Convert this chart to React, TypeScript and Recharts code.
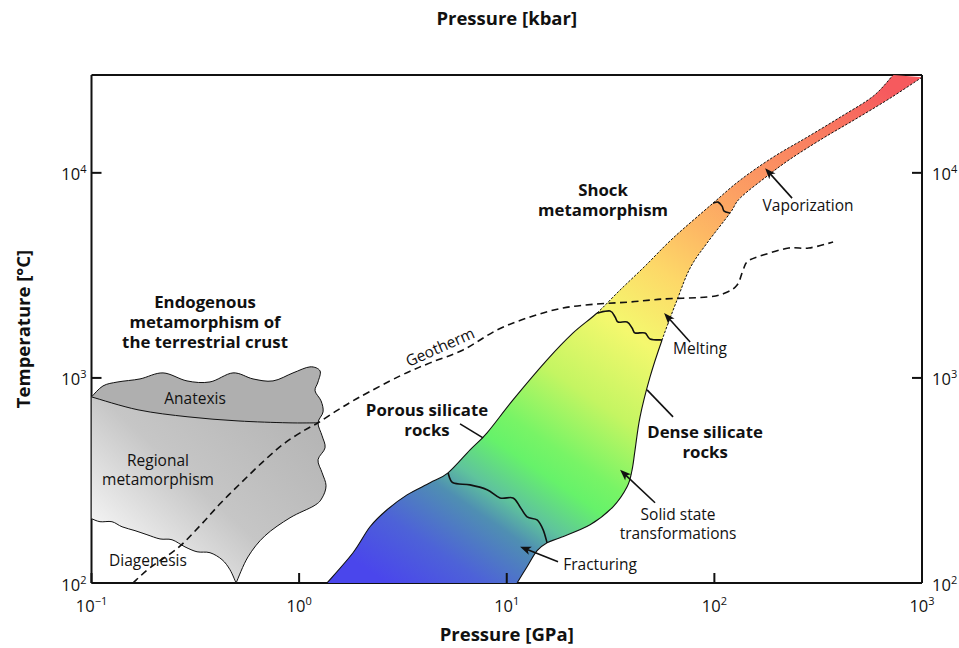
import React from "react";
import { ComposedChart, XAxis, YAxis, Scatter } from "recharts";

// Shock / endogenous metamorphism P–T diagram (log–log)
// Pressure in GPa, temperature in °C.

type Pt = { x: number; y: number };
type Note = { x: number; y: number; lines: string[]; bold?: boolean; angle?: number };
type Arrow = { from: Pt; to: Pt; head: boolean };

const X_DOMAIN = [0.1, 1000];
const Y_DOMAIN = [100, 30000];
const X_TICKS = [0.1, 1, 10, 100, 1000];
const Y_TICKS = [100, 1000, 10000];

// shock band, left edge (porous silicate rocks) bottom → top
const SHOCK_LEFT: Pt[] = [
  { x: 1.362, y: 100 }, { x: 1.818, y: 140.5 }, { x: 2.195, y: 188 }, { x: 2.651, y: 227.5 },
  { x: 3.309, y: 269 }, { x: 4.271, y: 308 }, { x: 5.214, y: 344.6 }, { x: 6.657, y: 446 },
  { x: 8.04, y: 540 }, { x: 10.72, y: 781 }, { x: 15.64, y: 1224 }, { x: 20.87, y: 1657 },
  { x: 27.23, y: 2073 }, { x: 35.14, y: 2683 }, { x: 46.37, y: 3512 }, { x: 63.25, y: 4808 },
  { x: 98.56, y: 7118 }, { x: 133, y: 9213 }, { x: 191.8, y: 11925 }, { x: 279.6, y: 14925 },
  { x: 403.3, y: 18675 }, { x: 581.6, y: 23640 }, { x: 725.8, y: 30000 },
];

// shock band, right edge (dense silicate rocks) top → bottom
const SHOCK_RIGHT: Pt[] = [
  { x: 1000, y: 29240 }, { x: 702, y: 23120 }, { x: 486.8, y: 18470 }, { x: 333.9, y: 14760 },
  { x: 231.6, y: 11660 }, { x: 179.4, y: 9636 }, { x: 133, y: 7529 }, { x: 119, y: 6364 },
  { x: 92.2, y: 4546 }, { x: 76.4, y: 3434 }, { x: 66.1, y: 2398 }, { x: 55.98, y: 1531 },
  { x: 49, y: 1011 }, { x: 43.86, y: 646 }, { x: 41.5, y: 446 }, { x: 40.15, y: 356.4 },
  { x: 37.98, y: 294.5 }, { x: 32.5, y: 235.3 }, { x: 25.2, y: 192.3 }, { x: 18.06, y: 166.3 },
  { x: 15.64, y: 157.1 }, { x: 14, y: 143.7 }, { x: 12.53, y: 120.1 }, { x: 11.21, y: 100 },
];

const FRACTURING: Pt[] = [
  { x: 5.214, y: 344.6 }, { x: 5.511, y: 308 }, { x: 6.657, y: 301 }, { x: 8.04, y: 285 },
  { x: 9.284, y: 260 }, { x: 10.72, y: 260 }, { x: 11.59, y: 235 }, { x: 12.53, y: 210 },
  { x: 14, y: 203 }, { x: 14.96, y: 182 }, { x: 15.64, y: 157.1 },
];

const MELTING: Pt[] = [
  { x: 27.23, y: 2073 }, { x: 31.45, y: 2120 }, { x: 33.24, y: 1982 }, { x: 34.36, y: 1874 },
  { x: 37.98, y: 1874 }, { x: 40.15, y: 1752 }, { x: 41.5, y: 1657 }, { x: 46.32, y: 1657 },
  { x: 49, y: 1549 }, { x: 55.98, y: 1531 },
];

const VAPORIZATION: Pt[] = [
  { x: 98.56, y: 7118 }, { x: 104.2, y: 7199 }, { x: 108.9, y: 6884 }, { x: 111.4, y: 6510 },
  { x: 119, y: 6364 },
];

const GEOTHERM: Pt[] = [
  { x: 0.1585, y: 100 }, { x: 0.1913, y: 118.7 }, { x: 0.2611, y: 148.5 }, { x: 0.3331, y: 190.2 },
  { x: 0.4205, y: 246.1 }, { x: 0.5369, y: 314.9 }, { x: 0.6851, y: 398.6 }, { x: 0.8553, y: 482.5 },
  { x: 1.068, y: 558 }, { x: 1.233, y: 603.7 }, { x: 1.539, y: 698.5 }, { x: 1.965, y: 808.3 },
  { x: 3.062, y: 1023 }, { x: 4.271, y: 1184 }, { x: 6.159, y: 1369 }, { x: 8.98, y: 1713 },
  { x: 12.95, y: 1982 }, { x: 18.67, y: 2193 }, { x: 27.23, y: 2293 }, { x: 39.26, y: 2345 },
  { x: 56.6, y: 2425 }, { x: 92.2, y: 2480 }, { x: 112.6, y: 2594 }, { x: 128.7, y: 2838 },
  { x: 137.5, y: 3358 }, { x: 145.3, y: 3715 }, { x: 171.6, y: 3973 }, { x: 228.2, y: 4298 },
  { x: 284.9, y: 4298 }, { x: 373.1, y: 4597 },
];

// crust field: top + right wavy outline, from the left axis down to the bottom apex
const CRUST_EDGE: Pt[] = [
  { x: 0.1, y: 808 }, { x: 0.1136, y: 914 }, { x: 0.1341, y: 956 }, { x: 0.1713, y: 989 },
  { x: 0.2211, y: 1058 }, { x: 0.2884, y: 967 }, { x: 0.3722, y: 956 }, { x: 0.4804, y: 1058 },
  { x: 0.5996, y: 989 }, { x: 0.7485, y: 967 }, { x: 0.9346, y: 1058 }, { x: 1.128, y: 1132 },
  { x: 1.261, y: 1082 }, { x: 1.233, y: 956 }, { x: 1.193, y: 865 }, { x: 1.275, y: 773 },
  { x: 1.304, y: 683 }, { x: 1.233, y: 604 }, { x: 1.29, y: 522 }, { x: 1.333, y: 456 },
  { x: 1.233, y: 399 }, { x: 1.29, y: 345 }, { x: 1.348, y: 298 }, { x: 1.29, y: 260 },
  { x: 1.18, y: 238 }, { x: 0.904, y: 208 }, { x: 0.685, y: 170 }, { x: 0.567, y: 134 },
  { x: 0.497, y: 100 },
];

// diagenesis boundary, apex → left axis
const DIAGENESIS: Pt[] = [
  { x: 0.4646, y: 116 }, { x: 0.4252, y: 130 }, { x: 0.3722, y: 140.5 }, { x: 0.3224, y: 142 },
  { x: 0.2821, y: 150 }, { x: 0.2443, y: 162.5 }, { x: 0.2138, y: 164 }, { x: 0.185, y: 172 },
  { x: 0.162, y: 180 }, { x: 0.1403, y: 188 }, { x: 0.1255, y: 199 }, { x: 0.1099, y: 199 },
  { x: 0.1, y: 206 },
];

// anatexis / regional metamorphism divide, left → right
const ANATEXIS_DIV: Pt[] = [
  { x: 0.1, y: 808 }, { x: 0.1675, y: 699 }, { x: 0.2915, y: 646 }, { x: 0.5078, y: 617 },
  { x: 0.8843, y: 604 }, { x: 1.233, y: 604 },
];

const NOTES: Note[] = [
  { x: 29.1, y: 8235, lines: ["Shock", "metamorphism"], bold: true },
  { x: 0.3522, y: 2345, lines: ["Endogenous", "metamorphism of", "the terrestrial crust"], bold: true },
  { x: 4.131, y: 698.5, lines: ["Porous silicate", "rocks"], bold: true },
  { x: 90.2, y: 545.8, lines: ["Dense silicate", "rocks"], bold: true },
  { x: 0.3152, y: 790, lines: ["Anatexis"] },
  { x: 0.209, y: 394, lines: ["Regional", "metamorphism"] },
  { x: 0.1871, y: 128.4, lines: ["Diagenesis"] },
  { x: 282.7, y: 6960, lines: ["Vaporization"] },
  { x: 85.3, y: 1385, lines: ["Melting"] },
  { x: 66.86, y: 215.1, lines: ["Solid state", "transformations"] },
  { x: 28.14, y: 122.8, lines: ["Fracturing"] },
  { x: 4.772, y: 1416, lines: ["Geotherm"], angle: -24 },
];

const ARROWS: Arrow[] = [
  { from: { x: 236.7, y: 7529 }, to: { x: 175.5, y: 10541 }, head: true },
  { from: { x: 76.4, y: 1497 }, to: { x: 57.25, y: 2073 }, head: true },
  { from: { x: 51.8, y: 246.1 }, to: { x: 35.14, y: 356.4 }, head: true },
  { from: { x: 17.66, y: 127 }, to: { x: 11.59, y: 150.3 }, head: true },
  { from: { x: 63.24, y: 645.7 }, to: { x: 47.4, y: 874.1 }, head: false },
  { from: { x: 5.957, y: 597 }, to: { x: 7.688, y: 510.2 }, head: false },
];

const FONT = "'Open Sans', 'Noto Sans', sans-serif";
const INK = "#111";

// Catmull-Rom → cubic bezier pieces, one per gap between points
function segs(p: Pt[]): string[] {
  const out: string[] = [];
  for (let i = 0; i < p.length - 1; i++) {
    const p0 = p[i - 1] || p[i];
    const p1 = p[i];
    const p2 = p[i + 1];
    const p3 = p[i + 2] || p2;
    const c1x = p1.x + (p2.x - p0.x) / 6;
    const c1y = p1.y + (p2.y - p0.y) / 6;
    const c2x = p2.x - (p3.x - p1.x) / 6;
    const c2y = p2.y - (p3.y - p1.y) / 6;
    out.push(`C${c1x},${c1y} ${c2x},${c2y} ${p2.x},${p2.y}`);
  }
  return out;
}

function smooth(p: Pt[], a = 0, b = p.length - 1): string {
  return `M${p[a].x},${p[a].y} ` + segs(p).slice(a, b).join(" ");
}

const noDot = () => <g />;

const same = (a: Pt, b: Pt) => a.x === b.x && a.y === b.y;
const MELT_L = SHOCK_LEFT.findIndex((p) => same(p, MELTING[0]));
const MELT_R = SHOCK_RIGHT.findIndex((p) => same(p, MELTING[MELTING.length - 1]));
const ANAT_K = CRUST_EDGE.findIndex((p) => same(p, ANATEXIS_DIV[ANATEXIS_DIV.length - 1]));

const SHOCK_DATA = [...SHOCK_LEFT, ...SHOCK_RIGHT];
const CRUST_DATA = [...CRUST_EDGE, ...DIAGENESIS, ...ANATEXIS_DIV];

const shockShape = (props: any) => {
  const pts: Pt[] = props.points;
  const L = pts.slice(0, SHOCK_LEFT.length);
  const R = pts.slice(SHOCK_LEFT.length);
  const d = smooth(L) + ` L${R[0].x},${R[0].y} ` + segs(R).join(" ") + " Z";
  const dash = { fill: "none", stroke: INK, strokeWidth: 1, strokeDasharray: "2.5 1.5" };
  const solid = { fill: "none", stroke: INK, strokeWidth: 1.1 };
  return (
    <g>
      <path d={d} fill="url(#shockFill)" stroke="none" />
      <path d={smooth(L, 0, MELT_L)} {...solid} />
      <path d={smooth(L, MELT_L)} {...dash} />
      <path d={smooth(R, 0, MELT_R)} {...dash} />
      <path d={smooth(R, MELT_R)} {...solid} />
    </g>
  );
};

const crustShape = (props: any) => {
  const pts: Pt[] = props.points;
  const nE = CRUST_EDGE.length;
  const nD = DIAGENESIS.length;
  const E = pts.slice(0, nE);
  const D = [E[nE - 1], ...pts.slice(nE, nE + nD)];
  const V = pts.slice(nE + nD);
  const outer = smooth(E) + " " + segs(D).join(" ") + " Z";
  const anat = smooth(E, 0, ANAT_K) + " " + segs([...V].reverse()).join(" ") + " Z";
  const st = { fill: "none", stroke: INK, strokeWidth: 1 };
  return (
    <g>
      <path d={outer} fill="url(#crustFill)" />
      <path d={anat} fill="#afafaf" />
      <path d={smooth(E)} {...st} />
      <path d={smooth(D)} {...st} />
      <path d={smooth(V)} {...st} />
    </g>
  );
};

const waveShape = (props: any) => (
  <path d={smooth(props.points)} fill="none" stroke={INK} strokeWidth={1.6} />
);

const geothermShape = (props: any) => (
  <path d={smooth(props.points)} fill="none" stroke={INK} strokeWidth={1.6} strokeDasharray="7 4.5" />
);

const arrowShape = (head: boolean) => (props: any) => {
  const [a, b] = props.points as Pt[];
  const dx = b.x - a.x;
  const dy = b.y - a.y;
  const len = Math.hypot(dx, dy) || 1;
  const ux = dx / len;
  const uy = dy / len;
  const hl = 11;
  const hw = 4.2;
  const ex = head ? b.x - ux * hl * 0.7 : b.x;
  const ey = head ? b.y - uy * hl * 0.7 : b.y;
  return (
    <g>
      <line x1={a.x} y1={a.y} x2={ex} y2={ey} stroke={INK} strokeWidth={1.6} />
      {head && (
        <polygon
          points={`${b.x},${b.y} ${b.x - ux * hl - uy * hw},${b.y - uy * hl + ux * hw} ${b.x - ux * hl * 0.75},${b.y - uy * hl * 0.75} ${b.x - ux * hl + uy * hw},${b.y - uy * hl - ux * hw}`}
          fill={INK}
        />
      )}
    </g>
  );
};

const noteShape = (props: any) => {
  const n = props.payload as Note;
  const size = n.bold ? 16.8 : 15.5;
  const lh = n.bold ? 20 : 18.5;
  const base = props.cy + size * 0.36;
  return (
    <text
      x={props.cx}
      y={base}
      textAnchor="middle"
      fontSize={size}
      fontWeight={n.bold ? 700 : 400}
      fill={INK}
      fontFamily={FONT}
      transform={n.angle ? `rotate(${n.angle} ${props.cx} ${props.cy})` : undefined}
    >
      {n.lines.map((s, i) => (
        <tspan key={i} x={props.cx} y={base + i * lh}>
          {s}
        </tspan>
      ))}
    </text>
  );
};

function expText(v: number) {
  const e = Math.round(Math.log10(v));
  return e < 0 ? `\u2212${-e}` : String(e);
}

function PowerTick(props: any) {
  const { x, y, payload, side } = props;
  let l: number[];
  let tx: number;
  let ty: number;
  let anchor: "middle" | "end" | "start" = "middle";
  if (side === "bottom") {
    l = [x, y, x, y - 10];
    tx = x;
    ty = y + 29;
  } else if (side === "top") {
    l = [x, y, x, y + 10];
    tx = x;
    ty = y - 13;
  } else if (side === "left") {
    l = [x, y, x + 10, y];
    tx = x - 5;
    ty = y + 7.5;
    anchor = "end";
  } else {
    l = [x, y, x - 10, y];
    tx = x + 10;
    ty = y + 7.5;
    anchor = "start";
  }
  return (
    <g>
      <line x1={l[0]} y1={l[1]} x2={l[2]} y2={l[3]} stroke={INK} strokeWidth={2} />
      <text x={tx} y={ty} textAnchor={anchor} fontSize={16.5} fontFamily={FONT} fill={INK}>
        10
        <tspan dy={-7} fontSize={11}>
          {expText(payload.value)}
        </tspan>
      </text>
    </g>
  );
}

const titleProps = { fontSize: 18.5, fontWeight: 700, fill: INK, fontFamily: FONT, textAnchor: "middle" as const };

const topTitle = (p: any) => {
  const vb = p.viewBox;
  return <text x={vb.x + vb.width / 2} y={vb.y + 25} {...titleProps}>Pressure [kbar]</text>;
};
const bottomTitle = (p: any) => {
  const vb = p.viewBox;
  return <text x={vb.x + vb.width / 2} y={vb.y + 58} {...titleProps}>Pressure [GPa]</text>;
};
const leftTitle = (p: any) => {
  const vb = p.viewBox;
  const cx = vb.x + 30;
  const cy = vb.y + vb.height / 2;
  return (
    <text x={cx} y={cy} transform={`rotate(-90 ${cx} ${cy})`} {...titleProps}>
      Temperature [°C]
    </text>
  );
};

const axisCommon = {
  type: "number" as const,
  scale: "log" as const,
  allowDataOverflow: true,
  tickLine: false,
  tickSize: 0,
  tickMargin: 0,
  interval: 0 as const,
  stroke: INK,
  axisLine: { stroke: INK, strokeWidth: 2 },
};

export default function App() {
  return (
    <div style={{ position: "absolute", left: 0, top: 0, width: 959, height: 648, background: "#fff" }}>
      <ComposedChart width={959} height={648} margin={{ top: 0, right: 0, bottom: 0, left: 0 }} style={{ fontFamily: FONT }}>
        <defs>
          <linearGradient id="shockFill" x1="0.1" y1="1" x2="0.9" y2="0">
            <stop offset="0" stopColor="#4a46ec" />
            <stop offset="0.08" stopColor="#4d62d8" />
            <stop offset="0.16" stopColor="#4f8fb2" />
            <stop offset="0.2" stopColor="#5fc49c" />
            <stop offset="0.26" stopColor="#66f26a" />
            <stop offset="0.3" stopColor="#78f466" />
            <stop offset="0.39" stopColor="#c4f562" />
            <stop offset="0.5" stopColor="#f4f86e" />
            <stop offset="0.6" stopColor="#fdd868" />
            <stop offset="0.68" stopColor="#fdb864" />
            <stop offset="0.76" stopColor="#fc9e63" />
            <stop offset="0.9" stopColor="#f97a60" />
            <stop offset="1" stopColor="#f65a5e" />
          </linearGradient>
          <linearGradient id="crustFill" x1="0" y1="1" x2="1" y2="0">
            <stop offset="0" stopColor="#ffffff" />
            <stop offset="0.12" stopColor="#f6f6f6" />
            <stop offset="0.45" stopColor="#c6c6c6" />
            <stop offset="1" stopColor="#aeaeae" />
          </linearGradient>
        </defs>

        <XAxis
          {...axisCommon}
          xAxisId="b"
          dataKey="x"
          orientation="bottom"
          height={65}
          domain={X_DOMAIN}
          ticks={X_TICKS}
          tick={(p: any) => <PowerTick {...p} side="bottom" />}
          label={bottomTitle}
        />
        <XAxis
          {...axisCommon}
          xAxisId="t"
          orientation="top"
          height={75}
          domain={X_DOMAIN}
          ticks={X_TICKS}
          tick={(p: any) => <PowerTick {...p} side="top" />}
          label={topTitle}
        />
        <YAxis
          {...axisCommon}
          yAxisId="l"
          dataKey="y"
          orientation="left"
          width={91.5}
          domain={Y_DOMAIN}
          ticks={Y_TICKS}
          tick={(p: any) => <PowerTick {...p} side="left" />}
          label={leftTitle}
        />
        <YAxis
          {...axisCommon}
          yAxisId="r"
          orientation="right"
          width={37}
          domain={Y_DOMAIN}
          ticks={Y_TICKS}
          tick={(p: any) => <PowerTick {...p} side="right" />}
        />

        <Scatter xAxisId="b" yAxisId="l" data={CRUST_DATA} shape={noDot} line={crustShape} isAnimationActive={false} />
        <Scatter xAxisId="b" yAxisId="l" data={SHOCK_DATA} shape={noDot} line={shockShape} isAnimationActive={false} />
        <Scatter xAxisId="b" yAxisId="l" data={GEOTHERM} shape={noDot} line={geothermShape} isAnimationActive={false} />
        <Scatter xAxisId="b" yAxisId="l" data={FRACTURING} shape={noDot} line={waveShape} isAnimationActive={false} />
        <Scatter xAxisId="b" yAxisId="l" data={MELTING} shape={noDot} line={waveShape} isAnimationActive={false} />
        <Scatter xAxisId="b" yAxisId="l" data={VAPORIZATION} shape={noDot} line={waveShape} isAnimationActive={false} />
        {ARROWS.map((a, i) => (
          <Scatter
            key={`arrow-${i}`}
            xAxisId="b"
            yAxisId="l"
            data={[a.from, a.to]}
            shape={noDot}
            line={arrowShape(a.head)}
            isAnimationActive={false}
          />
        ))}
        <Scatter xAxisId="b" yAxisId="l" data={NOTES} shape={noteShape} isAnimationActive={false} />
      </ComposedChart>
    </div>
  );
}
